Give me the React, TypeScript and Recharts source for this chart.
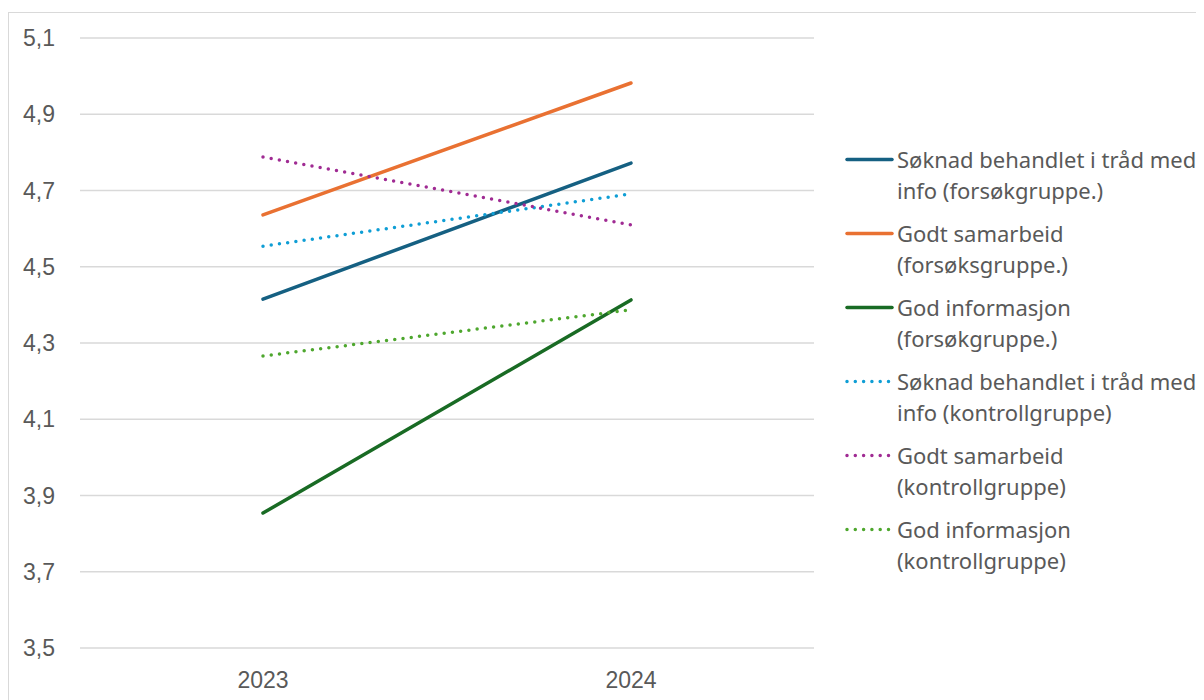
import { CartesianGrid, Line, LineChart, XAxis, YAxis } from "recharts";

const years = ["2023", "2024"];

const soknadForsok = [4.415, 4.772];
const samarbeidForsok = [4.636, 4.982];
const informasjonForsok = [3.854, 4.413];
const soknadKontroll = [4.554, 4.691];
const samarbeidKontroll = [4.788, 4.61];
const informasjonKontroll = [4.266, 4.387];

const yTicks = [3.5, 3.7, 3.9, 4.1, 4.3, 4.5, 4.7, 4.9, 5.1];

const series = [
  { key: "soknadForsok", values: soknadForsok, color: "#156082", dotted: false, label: ["Søknad behandlet i tråd med", "info (forsøkgruppe.)"] },
  { key: "samarbeidForsok", values: samarbeidForsok, color: "#E97132", dotted: false, label: ["Godt samarbeid", "(forsøksgruppe.)"] },
  { key: "informasjonForsok", values: informasjonForsok, color: "#196B24", dotted: false, label: ["God informasjon", "(forsøkgruppe.)"] },
  { key: "soknadKontroll", values: soknadKontroll, color: "#0F9ED5", dotted: true, label: ["Søknad behandlet i tråd med", "info (kontrollgruppe)"] },
  { key: "samarbeidKontroll", values: samarbeidKontroll, color: "#A02B93", dotted: true, label: ["Godt samarbeid", "(kontrollgruppe)"] },
  { key: "informasjonKontroll", values: informasjonKontroll, color: "#4EA72E", dotted: true, label: ["God informasjon", "(kontrollgruppe)"] },
];

const data = years.map((year, i) => {
  const row: Record<string, string | number> = { year };
  series.forEach((s) => (row[s.key] = s.values[i]));
  return row;
});

const font = "'Noto Sans', sans-serif";
const tickFont = "'Liberation Sans', Arial, sans-serif";
const textColor = "#595959";

export default function App() {
  return (
    <div
      style={{
        position: "relative",
        marginTop: 4,
        width: 1196,
        height: 688,
        borderTop: "1px solid #d9d9d9",
        borderLeft: "1px solid #d9d9d9",
        fontFamily: font,
      }}
    >
      <LineChart
        width={830}
        height={688}
        data={data}
        margin={{ top: 25, right: 25, bottom: 23, left: 11 }}
      >
        <CartesianGrid vertical={false} stroke="#d9d9d9" strokeWidth={1.3} />
        <XAxis
          dataKey="year"
          axisLine={false}
          tickLine={false}
          padding={{ left: 183, right: 183 }}
          height={30}
          tickMargin={18}
          tick={{ fill: textColor, fontSize: 23, fontFamily: tickFont }}
        />
        <YAxis
          domain={[3.5, 5.1]}
          ticks={yTicks}
          width={60}
          axisLine={false}
          tickLine={false}
          tickMargin={19}
          tickFormatter={(v: number) => v.toFixed(1).replace(".", ",")}
          tick={{ fill: textColor, fontSize: 23, fontFamily: tickFont }}
        />
        {series.map((s) => (
          <Line
            key={s.key}
            dataKey={s.key}
            type="linear"
            stroke={s.color}
            strokeWidth={3.5}
            strokeLinecap="round"
            strokeDasharray={s.dotted ? "0 8.3" : undefined}
            dot={false}
            activeDot={false}
            isAnimationActive={false}
          />
        ))}
      </LineChart>
      <div style={{ position: "absolute", left: 836, top: 131, color: textColor, fontSize: 22 }}>
        {series.map((s) => (
          <div key={s.key} style={{ display: "flex", marginBottom: 12, lineHeight: "31px" }}>
            <svg width={52} height={31} style={{ flexShrink: 0 }}>
              <line
                x1={2}
                x2={47}
                y1={15.5}
                y2={15.5}
                stroke={s.color}
                strokeWidth={3.5}
                strokeLinecap="round"
                strokeDasharray={s.dotted ? "0 8.3" : undefined}
              />
            </svg>
            <div>
              {s.label.map((l) => (
                <div key={l} style={{ whiteSpace: "nowrap" }}>{l}</div>
              ))}
            </div>
          </div>
        ))}
      </div>
    </div>
  );
}
